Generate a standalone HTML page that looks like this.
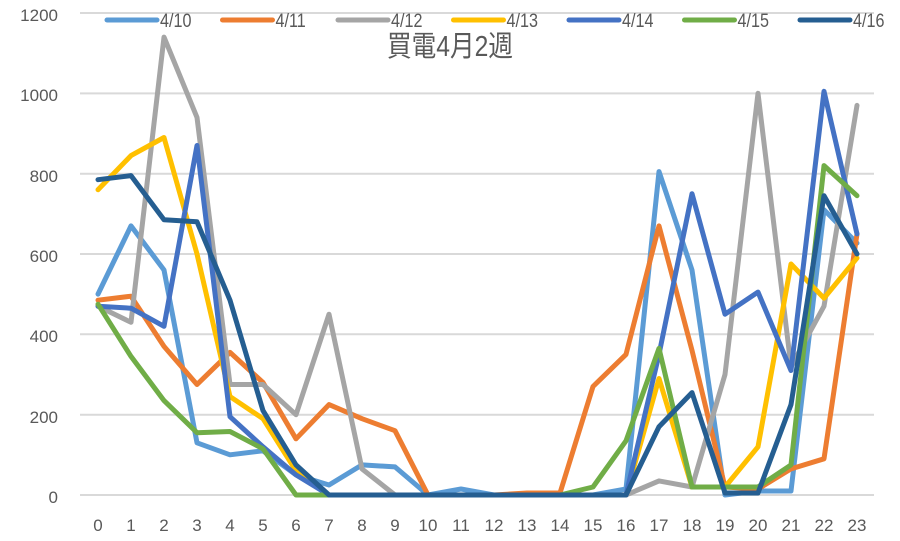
<!DOCTYPE html>
<html><head><meta charset="utf-8"><style>body{margin:0;background:#fff}svg{display:block}</style></head><body>
<svg width="900" height="541" xmlns="http://www.w3.org/2000/svg" font-family="Liberation Sans, Noto Sans CJK JP, sans-serif">
<rect width="900" height="541" fill="#fff"/>
<g stroke="#d9d9d9" stroke-width="2">
<line x1="80" x2="874" y1="13" y2="13"/><line x1="80" x2="874" y1="93.4" y2="93.4"/><line x1="80" x2="874" y1="173.7" y2="173.7"/><line x1="80" x2="874" y1="254" y2="254"/><line x1="80" x2="874" y1="334.3" y2="334.3"/><line x1="80" x2="874" y1="414.7" y2="414.7"/><line x1="80" x2="874" y1="495" y2="495"/>
</g>
<g fill="#595959" font-size="17" text-anchor="end">
<text x="58" y="21">1200</text><text x="58" y="101">1000</text><text x="58" y="182">800</text><text x="58" y="262">600</text><text x="58" y="342">400</text><text x="58" y="423">200</text><text x="58" y="503">0</text>
</g>
<g fill="#595959" font-size="17" text-anchor="middle" id="xl"></g>
<g fill="none" stroke-width="5" stroke-linejoin="round" stroke-linecap="round" id="ser"></g>
<g font-size="19" fill="#595959" id="leg"></g>
<text x="0" y="56" font-size="29" fill="#595959" text-anchor="middle" transform="translate(450,0) scale(0.85,1)">買電4月2週</text>
<script>
var ns="http://www.w3.org/2000/svg";
var xl=document.getElementById("xl");
for(var i=0;i<24;i++){var t=document.createElementNS(ns,"text");t.setAttribute("x",98+i*33);t.setAttribute("y",531);t.textContent=i;xl.appendChild(t);}
var S=[["4/10","#5b9bd5",[500,670,560,130,100,110,50,25,75,70,0,15,0,0,0,0,15,805,560,0,10,10,710,627]],
["4/11","#ed7d31",[485,495,370,275,355,280,140,225,190,160,0,0,0,5,5,270,350,670,360,20,15,65,90,650]],
["4/12","#a5a5a5",[470,430,1140,940,275,275,200,450,65,0,0,0,0,0,0,0,0,35,20,300,1000,320,470,970]],
["4/13","#ffc000",[760,845,890,600,245,190,60,0,0,0,0,0,0,0,0,0,0,290,20,20,120,575,490,590]],
["4/14","#4472c4",[470,465,420,870,195,120,50,0,0,0,0,0,0,0,0,0,0,350,750,450,505,310,1005,650]],
["4/15","#70ad47",[475,345,235,155,158,115,0,0,0,0,0,0,0,0,0,20,135,365,20,20,20,75,820,745]],
["4/16","#255e91",[785,795,685,680,485,210,75,0,0,0,0,0,0,0,0,0,0,170,255,5,5,225,745,600]]];
var g=document.getElementById("ser"),lg=document.getElementById("leg");
S.forEach(function(s,k){var p=document.createElementNS(ns,"polyline");
p.setAttribute("points",s[2].map(function(v,i){return (98+i*33)+","+(495-v*0.4017).toFixed(1)}).join(" "));
p.setAttribute("stroke",s[1]);g.appendChild(p);
var x=107+k*115.5;var l=document.createElementNS(ns,"line");l.setAttribute("x1",x);l.setAttribute("x2",x+50);l.setAttribute("y1",20);l.setAttribute("y2",20);l.setAttribute("stroke",s[1]);l.setAttribute("stroke-width",5);l.setAttribute("stroke-linecap","round");lg.appendChild(l);
var t=document.createElementNS(ns,"text");t.setAttribute("transform","translate("+(x+53)+",27) scale(0.85,1)");t.textContent=s[0];lg.appendChild(t);});
</script>
</svg>
</body></html>
